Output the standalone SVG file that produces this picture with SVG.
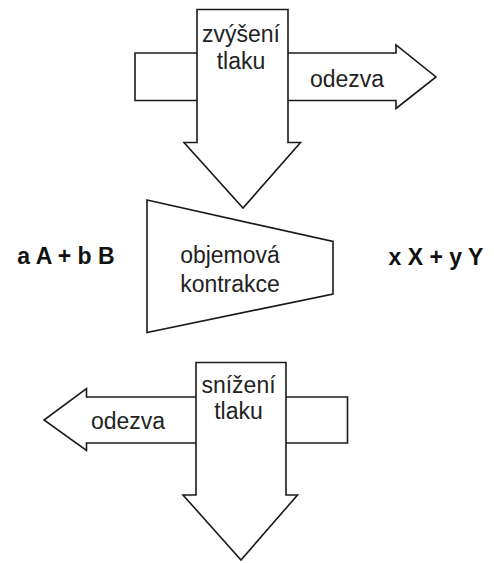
<svg xmlns="http://www.w3.org/2000/svg" width="494" height="563" viewBox="0 0 494 563">
<style>
.shape{fill:#fff;stroke:#1a1a1a;stroke-width:1.6;stroke-linejoin:miter}
.t{font-family:"Liberation Sans",Arial,sans-serif;font-size:23px;fill:#222;text-anchor:middle}
.b{font-family:"Liberation Sans",Arial,sans-serif;font-size:23px;font-weight:bold;fill:#111;text-anchor:middle}
</style>
<rect width="494" height="563" fill="#fff"/>
<g id="connectors">
<g id="response-top">
<path class="shape" d="M135,53 L396,53 L396,45 L436,77 L396,108.5 L396,100.5 L135,100.5 Z"/>
<text class="t" x="347" y="86.5">odezva</text>
</g>
<g id="pressure-increase">
<path class="shape" d="M197,9.5 L288,9.5 L288,142.5 L300.5,142.5 L243,208 L184,142.5 L197,142.5 Z"/>
<text class="t" x="241" y="41.5">zvýšení</text>
<text class="t" x="241" y="68.5">tlaku</text>
</g>
<g id="response-bottom">
<path class="shape" d="M347.5,397 L86.5,397 L86.5,388.5 L44,420 L86.5,450.5 L86.5,443 L347.5,443 Z"/>
<text class="t" x="128" y="429">odezva</text>
</g>
<g id="pressure-decrease">
<path class="shape" d="M196,362.5 L286,362.5 L286,495 L297.5,495 L241,560 L183,495 L196,495 Z"/>
<text class="t" x="238.5" y="392.5">snížení</text>
<text class="t" x="238.5" y="419">tlaku</text>
</g>
</g>
<g id="contraction">
<path class="shape" d="M147,200 L333,241.5 L333,294 L147,332.5 Z"/>
<text class="t" x="230" y="263">objemová</text>
<text class="t" x="230" y="291.5">kontrakce</text>
</g>
<g id="reactants">
<text class="b" x="66" y="264">a A + b B</text>
</g>
<g id="products">
<text class="b" x="436" y="264.5">x X + y Y</text>
</g>
</svg>
